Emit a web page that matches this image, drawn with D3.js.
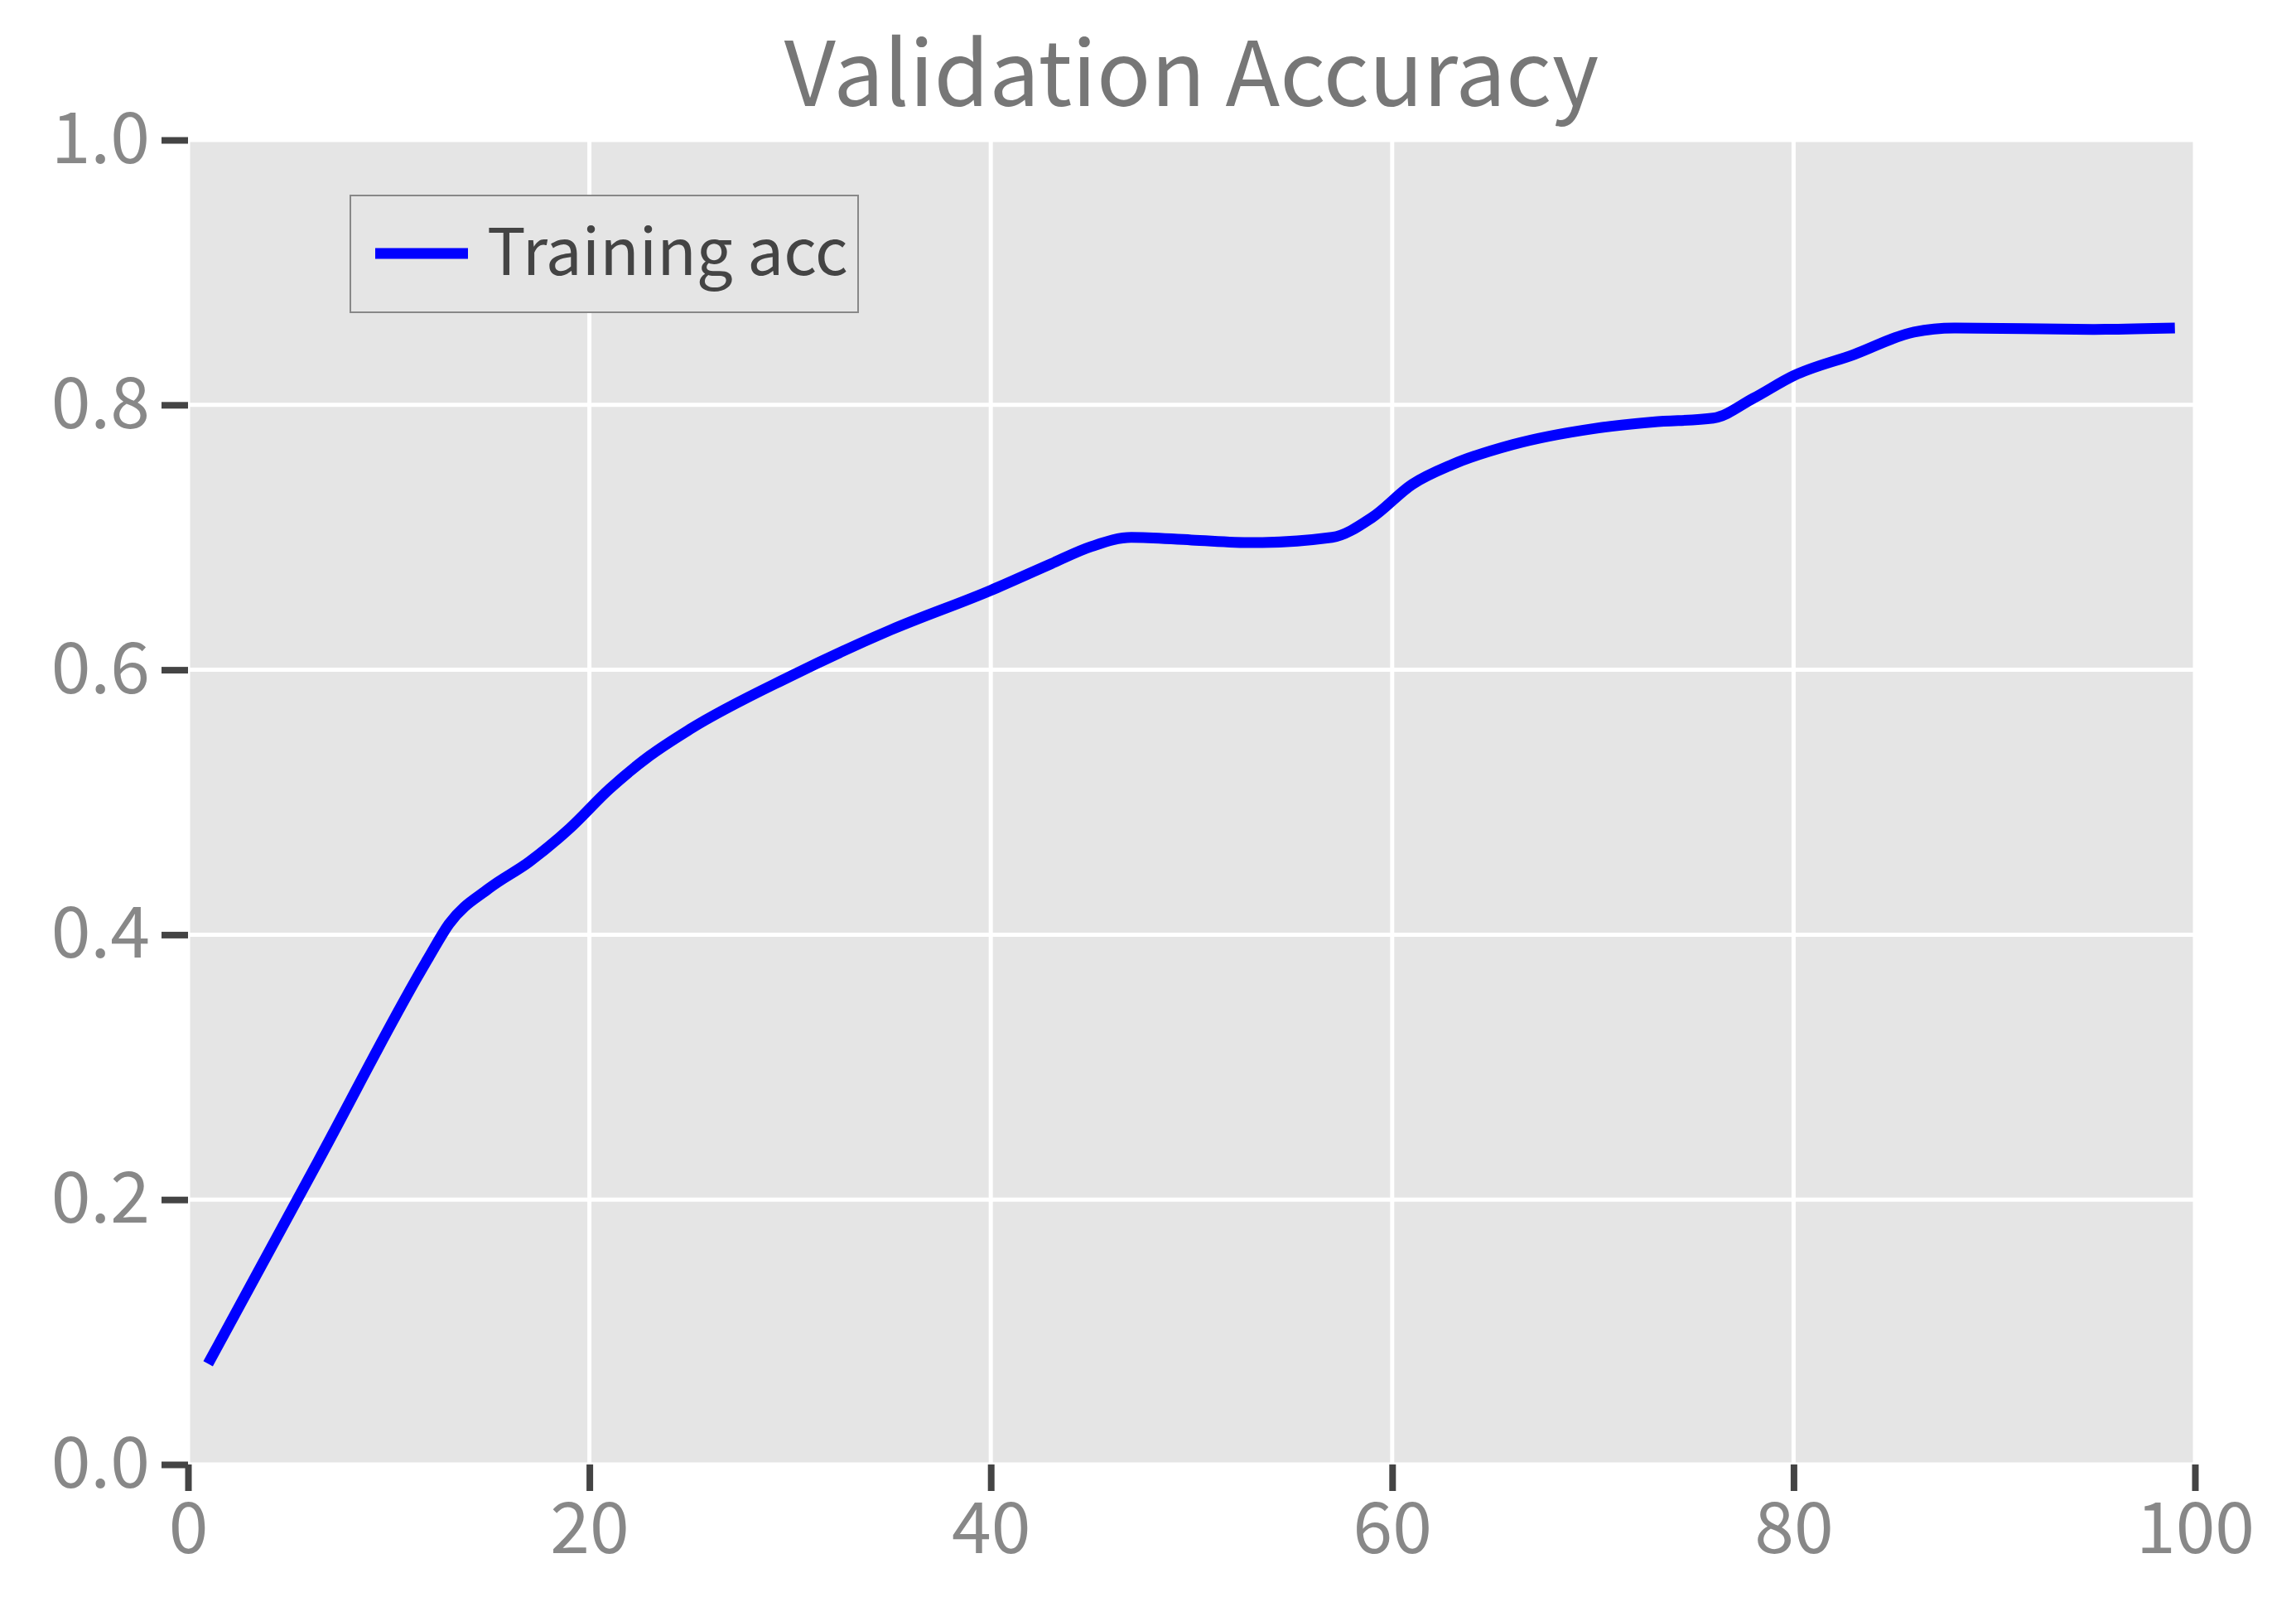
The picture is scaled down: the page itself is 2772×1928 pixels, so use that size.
<!DOCTYPE html>
<html><head><meta charset="utf-8">
<script src="https://cdn.jsdelivr.net/npm/d3@7"></script>
<style>body{margin:0;background:#fff}text{font-family:"Noto Sans CJK JP","Noto Sans",sans-serif}</style>
</head><body><div id="chart"></div>
<script>
const epochs = [1,6.5,12,13,15,17,19,21,23,25,30,35,40,43,45,47,50,53,57,59,61,63,66,70,73,76,78,80,83,86,88,95,99];
const acc = [0.076,0.2295,0.383,0.408,0.435,0.455,0.48,0.51,0.535,0.555,0.595,0.63,0.66,0.68,0.693,0.70,0.698,0.696,0.70,0.715,0.74,0.755,0.77,0.782,0.787,0.79,0.805,0.822,0.838,0.855,0.858,0.857,0.858];
const xTicks = [0,20,40,60,80,100];
const yTicks = [0,0.2,0.4,0.6,0.8,1.0];

const W = 2772, H = 1928;
const m = {left: 227, right: 2650, top: 169, bottom: 1768};
const svg = d3.select("#chart").append("svg").attr("width", W).attr("height", H);
const x = d3.scaleLinear().domain([0, 100]).range([m.left, m.right]);
const y = d3.scaleLinear().domain([0, 1]).range([m.bottom, m.top]);

svg.append("rect").attr("x", m.left).attr("y", m.top).attr("width", m.right - m.left).attr("height", m.bottom - m.top).attr("fill", "#e5e5e5");

// grid
svg.selectAll(".gx").data(xTicks).join("line").attr("x1", d => x(d)).attr("x2", d => x(d)).attr("y1", m.top).attr("y2", m.bottom).attr("stroke", "#fff").attr("stroke-width", 5);
svg.selectAll(".gy").data(yTicks).join("line").attr("y1", d => y(d)).attr("y2", d => y(d)).attr("x1", m.left).attr("x2", m.right).attr("stroke", "#fff").attr("stroke-width", 5);

const xa = svg.append("g").attr("transform", `translate(0,${m.bottom})`).call(d3.axisBottom(x).tickValues(xTicks).tickSize(32).tickPadding(14).tickFormat(d3.format("d")));
const ya = svg.append("g").attr("transform", `translate(${m.left},0)`).call(d3.axisLeft(y).tickValues(yTicks).tickSize(32).tickPadding(14).tickFormat(d3.format(".1f")));
[xa, ya].forEach(a => {
  a.select(".domain").remove();
  a.selectAll(".tick line").attr("stroke", "#444").attr("stroke-width", 8);
  a.selectAll(".tick text").attr("fill", "#888").attr("font-size", 86);
});

svg.append("path").datum(epochs.map((e, i) => [e, acc[i]]))
  .attr("d", d3.line().x(d => x(d[0])).y(d => y(d[1])).curve(d3.curveMonotoneX))
  .attr("fill", "none").attr("stroke", "#0000ff").attr("stroke-width", 13);

svg.append("text").attr("x", (m.left + m.right) / 2).attr("y", 128).attr("text-anchor", "middle")
  .attr("font-size", 108).attr("fill", "#777").text("Validation Accuracy");

const lg = svg.append("g");
lg.append("rect").attr("x", 423).attr("y", 236).attr("width", 613).attr("height", 141).attr("fill", "#e5e5e5").attr("stroke", "#888").attr("stroke-width", 2);
lg.append("line").attr("x1", 453).attr("x2", 565).attr("y1", 306).attr("y2", 306).attr("stroke", "#0000ff").attr("stroke-width", 13);
lg.append("text").attr("x", 588).attr("y", 332).attr("font-size", 78).attr("fill", "#444").text("Training acc");
</script></body></html>
